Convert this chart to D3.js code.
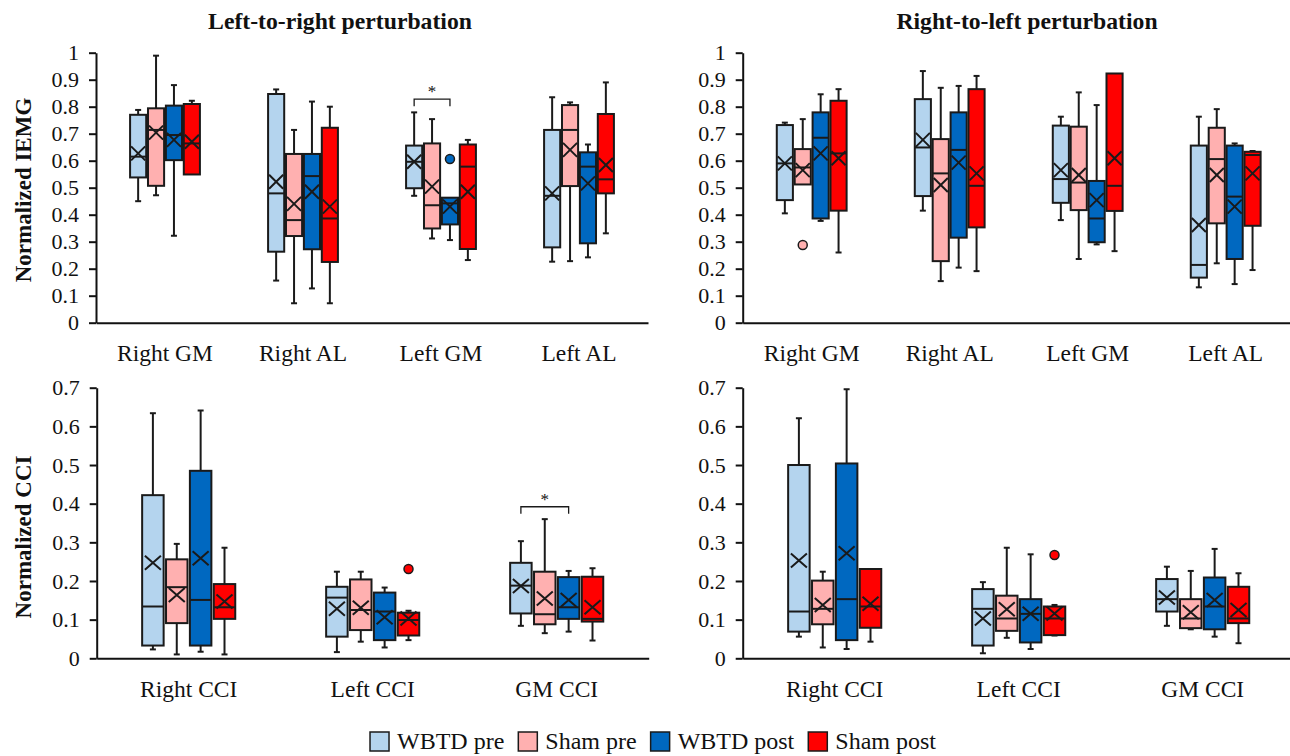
<!DOCTYPE html>
<html>
<head>
<meta charset="utf-8">
<script src="https://cdn.jsdelivr.net/npm/d3@7"></script>
<style>
  body { margin: 0; background: #fff; }
  svg text { font-family: "Liberation Serif", "Times New Roman", serif; fill: #111; }
</style>
</head>
<body>
<div id="chart"></div>
<script>
// Series and categories
var seriesNames = ["WBTD pre", "Sham pre", "WBTD post", "Sham post"];
var iemgCats = ["Right GM", "Right AL", "Left GM", "Left AL"];
var cciCats = ["Right CCI", "Left CCI", "GM CCI"];
var iemgTicks = [0, 0.1, 0.2, 0.3, 0.4, 0.5, 0.6, 0.7, 0.8, 0.9, 1];
var cciTicks = [0, 0.1, 0.2, 0.3, 0.4, 0.5, 0.6, 0.7];

// Each box: [low whisker, q1, median, q3, high whisker, mean], one row per series
var ltrIemg = [
  [[0.450, 0.538, 0.615, 0.770, 0.788, 0.627], [0.472, 0.507, 0.714, 0.794, 0.989, 0.704],
   [0.322, 0.602, 0.695, 0.804, 0.880, 0.677], [0.549, 0.549, 0.664, 0.810, 0.822, 0.670]],
  [[0.156, 0.263, 0.479, 0.847, 0.864, 0.522], [0.072, 0.321, 0.380, 0.625, 0.714, 0.440],
   [0.127, 0.272, 0.543, 0.625, 0.819, 0.485], [0.072, 0.225, 0.386, 0.722, 0.800, 0.430]],
  [[0.470, 0.498, 0.596, 0.656, 0.779, 0.596], [0.312, 0.349, 0.435, 0.664, 0.754, 0.504],
   [0.306, 0.364, 0.442, 0.463, 0.463, 0.430], [0.232, 0.273, 0.578, 0.660, 0.677, 0.485]],
  [[0.226, 0.279, 0.470, 0.714, 0.835, 0.479], [0.228, 0.506, 0.714, 0.806, 0.816, 0.640],
   [0.242, 0.294, 0.578, 0.631, 0.660, 0.516], [0.331, 0.479, 0.531, 0.773, 0.890, 0.584]]
];
var rtlIemg = [
  [[0.405, 0.454, 0.590, 0.732, 0.741, 0.590], [0.512, 0.512, 0.575, 0.643, 0.754, 0.565],
   [0.377, 0.386, 0.685, 0.779, 0.846, 0.627], [0.260, 0.415, 0.627, 0.822, 0.865, 0.609]],
  [[0.415, 0.469, 0.649, 0.828, 0.932, 0.677], [0.154, 0.228, 0.553, 0.680, 0.870, 0.510],
   [0.204, 0.315, 0.640, 0.779, 0.877, 0.593], [0.191, 0.353, 0.507, 0.865, 0.914, 0.553]],
  [[0.380, 0.444, 0.532, 0.730, 0.763, 0.565], [0.236, 0.417, 0.519, 0.726, 0.853, 0.547],
   [0.290, 0.298, 0.386, 0.525, 0.806, 0.454], [0.265, 0.414, 0.507, 0.923, 0.923, 0.609]],
  [[0.131, 0.167, 0.214, 0.656, 0.763, 0.362], [0.220, 0.368, 0.606, 0.722, 0.791, 0.547],
   [0.143, 0.236, 0.467, 0.656, 0.664, 0.430], [0.195, 0.359, 0.621, 0.633, 0.636, 0.553]]
];
var ltrCci = [
  [[0.023, 0.033, 0.134, 0.422, 0.634, 0.247], [0.010, 0.091, 0.184, 0.256, 0.296, 0.164],
   [0.017, 0.033, 0.151, 0.485, 0.641, 0.259], [0.010, 0.102, 0.132, 0.192, 0.286, 0.147]],
  [[0.016, 0.056, 0.157, 0.185, 0.224, 0.128], [0.043, 0.073, 0.125, 0.204, 0.224, 0.131],
   [0.028, 0.047, 0.121, 0.170, 0.183, 0.106], [0.047, 0.059, 0.099, 0.118, 0.123, 0.103]],
  [[0.084, 0.116, 0.188, 0.247, 0.303, 0.187], [0.065, 0.088, 0.114, 0.224, 0.360, 0.155],
   [0.069, 0.102, 0.132, 0.210, 0.226, 0.151], [0.046, 0.095, 0.102, 0.211, 0.233, 0.132]]
];
var rtlCci = [
  [[0.056, 0.069, 0.121, 0.500, 0.621, 0.253], [0.028, 0.088, 0.128, 0.201, 0.224, 0.138],
   [0.024, 0.047, 0.153, 0.504, 0.696, 0.272], [0.043, 0.079, 0.134, 0.231, 0.231, 0.141]],
  [[0.013, 0.033, 0.128, 0.179, 0.197, 0.103], [0.053, 0.071, 0.103, 0.162, 0.286, 0.127],
   [0.024, 0.041, 0.115, 0.153, 0.269, 0.115], [0.059, 0.060, 0.103, 0.134, 0.138, 0.116]],
  [[0.084, 0.121, 0.153, 0.205, 0.237, 0.157], [0.075, 0.078, 0.103, 0.153, 0.226, 0.119],
   [0.056, 0.075, 0.134, 0.209, 0.283, 0.151], [0.039, 0.091, 0.103, 0.185, 0.220, 0.125]]
];

// Outliers: [category index, series index, value]
var ltrIemgOut = [[2, 2, 0.606]];
var rtlIemgOut = [[0, 1, 0.288]];
var ltrCciOut = [[1, 3, 0.231]];
var rtlCciOut = [[1, 3, 0.267]];

// Significance brackets: [category index, from series, to series, bracket value]
var ltrIemgSig = [[2, 0, 2, 0.828]];
var ltrCciSig = [[2, 0, 2, 0.392]];

var colors = ["#b4d4ee", "#ffb0b0", "#0068c0", "#ff0000"];

var svg = d3.select("#chart").append("svg")
    .attr("width", 1290)
    .attr("height", 756);

function drawPanel(p) {
  var x = d3.scaleBand().domain(p.cats).range([p.x0, p.x1]).paddingInner(0).paddingOuter(0);
  var half = x.bandwidth() * 0.253;
  var xs = d3.scaleBand().domain(d3.range(seriesNames.length)).range([-half, half]).paddingInner(0.1);
  var y = d3.scaleLinear().domain([0, p.yMax]).range([p.y0, p.y1]);
  var bw = xs.bandwidth();

  var g = svg.append("g");

  // y axis
  var yAxis = d3.axisLeft(y)
      .tickValues(p.ticks)
      .tickSize(7)
      .tickSizeOuter(0)
      .tickPadding(10)
      .tickFormat(function (d) { return String(+d.toFixed(1)); });
  var ya = g.append("g")
      .attr("transform", "translate(" + p.x0 + ",0)")
      .call(yAxis);
  ya.selectAll("text").style("font-size", "22px").attr("font-family", null);
  ya.selectAll("line, path").attr("stroke", "#111").attr("stroke-width", 2);

  // x axis
  var xAxis = d3.axisBottom(x).tickSize(0).tickSizeOuter(0).tickPadding(22);
  var xa = g.append("g")
      .attr("transform", "translate(0," + p.y0 + ")")
      .call(xAxis);
  xa.selectAll("text").style("font-size", "23.5px").attr("font-family", null);
  xa.select("path").attr("stroke", "#111").attr("stroke-width", 2);

  // boxes
  var flat = [];
  p.data.forEach(function (row, ci) {
    row.forEach(function (d, si) {
      flat.push({ cat: p.cats[ci], s: si, lo: d[0], q1: d[1], med: d[2], q3: d[3], hi: d[4], mean: d[5] });
    });
  });

  var box = g.selectAll(".box")
      .data(flat)
    .enter().append("g")
      .attr("class", "box")
      .attr("transform", function (d) {
        return "translate(" + (x(d.cat) + x.bandwidth() / 2 + xs(d.s)) + ",0)";
      });

  // whiskers
  box.filter(function (d) { return d.hi > d.q3; }).append("line")
      .attr("x1", bw / 2).attr("x2", bw / 2)
      .attr("y1", function (d) { return y(d.q3); })
      .attr("y2", function (d) { return y(d.hi); });
  box.filter(function (d) { return d.hi > d.q3; }).append("line")
      .attr("x1", bw / 2 - 3).attr("x2", bw / 2 + 3)
      .attr("y1", function (d) { return y(d.hi); })
      .attr("y2", function (d) { return y(d.hi); });
  box.filter(function (d) { return d.lo < d.q1; }).append("line")
      .attr("x1", bw / 2).attr("x2", bw / 2)
      .attr("y1", function (d) { return y(d.q1); })
      .attr("y2", function (d) { return y(d.lo); });
  box.filter(function (d) { return d.lo < d.q1; }).append("line")
      .attr("x1", bw / 2 - 3).attr("x2", bw / 2 + 3)
      .attr("y1", function (d) { return y(d.lo); })
      .attr("y2", function (d) { return y(d.lo); });

  box.append("rect")
      .attr("x", 0)
      .attr("width", bw)
      .attr("y", function (d) { return y(d.q3); })
      .attr("height", function (d) { return y(d.q1) - y(d.q3); })
      .attr("fill", function (d) { return colors[d.s]; })
      .attr("stroke", "#1a1a1a")
      .attr("stroke-width", 2);

  // median
  box.append("line")
      .attr("x1", 0).attr("x2", bw)
      .attr("y1", function (d) { return y(d.med); })
      .attr("y2", function (d) { return y(d.med); });

  // mean marker
  var mx = Math.min(bw / 2 - 1, 8), my = 7;
  box.append("path")
      .attr("d", function (d) {
        var c = y(d.mean), m = bw / 2;
        return "M" + (m - mx) + "," + (c - my) + "L" + (m + mx) + "," + (c + my) +
               "M" + (m - mx) + "," + (c + my) + "L" + (m + mx) + "," + (c - my);
      })
      .attr("fill", "none");

  box.selectAll("line, path")
      .attr("stroke", "#1a1a1a")
      .attr("stroke-width", 2);

  // outliers
  g.selectAll(".outlier")
      .data(p.out)
    .enter().append("circle")
      .attr("class", "outlier")
      .attr("cx", function (d) { return x(p.cats[d[0]]) + x.bandwidth() / 2 + xs(d[1]) + bw / 2; })
      .attr("cy", function (d) { return y(d[2]); })
      .attr("r", 4.5)
      .attr("fill", function (d) { return colors[d[1]]; })
      .attr("stroke", "#1a1a1a")
      .attr("stroke-width", 1.5);

  // significance brackets
  p.sig.forEach(function (s) {
    var xa0 = x(p.cats[s[0]]) + x.bandwidth() / 2 + xs(s[1]) + bw / 2,
        xa1 = x(p.cats[s[0]]) + x.bandwidth() / 2 + xs(s[2]) + bw / 2,
        yb = y(s[3]);
    g.append("path")
        .attr("d", "M" + xa0 + "," + (yb + 7) + "V" + yb + "H" + xa1 + "V" + (yb + 7))
        .attr("fill", "none")
        .attr("stroke", "#1a1a1a")
        .attr("stroke-width", 1.3);
    g.append("text")
        .attr("x", (xa0 + xa1) / 2)
        .attr("y", yb - 2)
        .attr("text-anchor", "middle")
        .style("font-size", "17px")
        .text("*");
  });
}

drawPanel({ x0: 96, x1: 648, y0: 322.7, y1: 52.7, yMax: 1, ticks: iemgTicks, cats: iemgCats,
            data: ltrIemg, out: ltrIemgOut, sig: ltrIemgSig });
drawPanel({ x0: 742.7, x1: 1294.7, y0: 322.7, y1: 52.7, yMax: 1, ticks: iemgTicks, cats: iemgCats,
            data: rtlIemg, out: rtlIemgOut, sig: [] });
drawPanel({ x0: 96.7, x1: 648.7, y0: 658.3, y1: 387.7, yMax: 0.7, ticks: cciTicks, cats: cciCats,
            data: ltrCci, out: ltrCciOut, sig: ltrCciSig });
drawPanel({ x0: 742.7, x1: 1294.7, y0: 658.3, y1: 387.7, yMax: 0.7, ticks: cciTicks, cats: cciCats,
            data: rtlCci, out: rtlCciOut, sig: [] });

// titles
svg.append("text")
    .attr("x", 340).attr("y", 29)
    .attr("text-anchor", "middle")
    .style("font-size", "23.7px").style("font-weight", "bold")
    .text("Left-to-right perturbation");
svg.append("text")
    .attr("x", 1027).attr("y", 29)
    .attr("text-anchor", "middle")
    .style("font-size", "23.7px").style("font-weight", "bold")
    .text("Right-to-left perturbation");

// y labels
svg.append("text")
    .attr("transform", "translate(31,190) rotate(-90)")
    .attr("text-anchor", "middle")
    .style("font-size", "23px").style("font-weight", "bold")
    .text("Normalized IEMG");
svg.append("text")
    .attr("transform", "translate(31,537) rotate(-90)")
    .attr("text-anchor", "middle")
    .style("font-size", "23px").style("font-weight", "bold")
    .text("Normalized CCI");

// legend, laid out from text widths then centred
var legend = svg.append("g");
var lx = 0;
seriesNames.forEach(function (name, i) {
  var item = legend.append("g").attr("transform", "translate(" + lx + ",0)");
  item.append("rect")
      .attr("width", 19).attr("height", 19)
      .attr("fill", colors[i])
      .attr("stroke", "#1a1a1a")
      .attr("stroke-width", 1.5);
  var t = item.append("text")
      .attr("x", 27).attr("y", 17)
      .style("font-size", "24px")
      .text(name);
  lx += 27 + t.node().getComputedTextLength() + 14;
});
var legendW = lx - 14;
legend.attr("transform", "translate(" + (653 - legendW / 2) + ",732)");
</script>
</body>
</html>
